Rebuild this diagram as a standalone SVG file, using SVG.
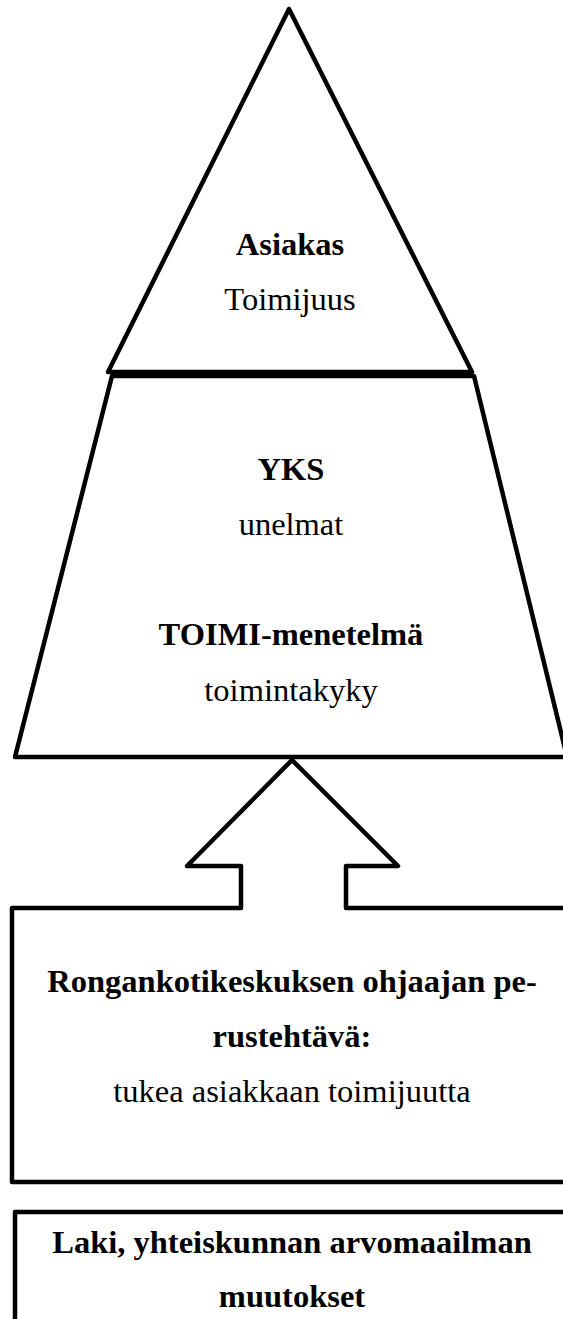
<svg xmlns="http://www.w3.org/2000/svg" width="563" height="1319" viewBox="0 0 563 1319">
<style>
.sh{fill:#fff;stroke:#000;stroke-width:4.5;stroke-linejoin:round}
text{font-family:"Liberation Serif","Times New Roman",serif;font-size:32.5px;fill:#000;text-anchor:middle}
.b{font-weight:bold}
</style>
<rect width="563" height="1319" fill="#fff"/>
<g id="trapezoid">
<polygon class="sh" points="112,376 474,376 567,757 15,757"/>
<text class="b" x="291" y="480">YKS</text>
<text x="291" y="535">unelmat</text>
<text class="b" x="291" y="645">TOIMI-menetelmä</text>
<text x="291" y="701">toimintakyky</text>
</g>
<g id="triangle">
<polygon class="sh" points="289,9 472,372 108,372"/>
<text class="b" x="290" y="255">Asiakas</text>
<text x="290" y="310">Toimijuus</text>
</g>
<g id="connectors">
<path class="sh" d="M12,1182 L12,908 L241,908 L241,866 L187,866 L292,760 L398,866 L346,866 L346,908 L580,908 L580,1182 Z"/>
</g>
<g id="task-box">
<text class="b" x="292" y="992">Rongankotikeskuksen ohjaajan pe-</text>
<text class="b" x="292" y="1047">rustehtävä:</text>
<text x="292" y="1102">tukea asiakkaan toimijuutta</text>
</g>
<g id="law-box">
<rect class="sh" x="15" y="1212" width="570" height="130"/>
<text class="b" x="292" y="1253">Laki, yhteiskunnan arvomaailman</text>
<text class="b" x="292" y="1307">muutokset</text>
</g>
</svg>
